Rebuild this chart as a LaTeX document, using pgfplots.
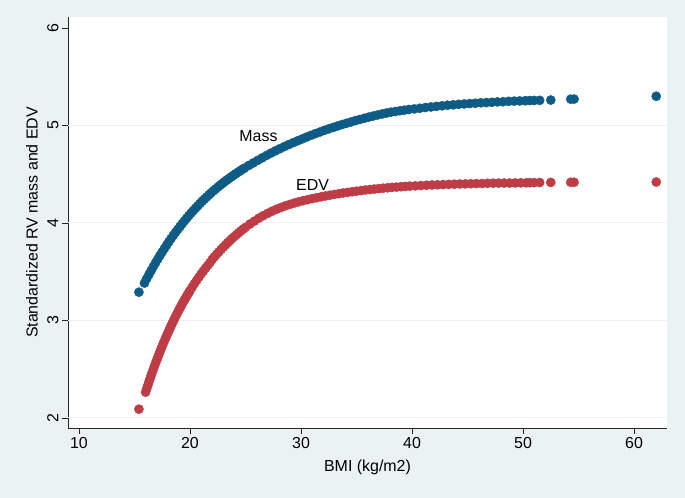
\documentclass[border=0pt]{standalone}
\usepackage{fontspec}
\setmainfont{Liberation Sans}
\usepackage{pgfplots}
\pgfplotsset{compat=1.18}
\definecolor{stbg}{RGB}{234,242,243}
\definecolor{massblue}{RGB}{14,92,133}
\definecolor{edvred}{RGB}{190,60,70}
\begin{document}
\begin{tikzpicture}
\fill[stbg] (0bp,0bp) rectangle (685bp,498bp);
\begin{axis}[
  at={(68bp,70bp)}, anchor=south west,
  scale only axis, width=599bp, height=411bp,
  xmin=9.01, xmax=62.97, ymin=1.897, ymax=6.113,
  axis lines*=left,
  axis line style={black!85, line width=0.8bp},
  axis background/.style={fill=white},
  xtick={10,20,...,60}, ytick={2,...,6},
  tick align=outside, major tick length=6bp,
  tick style={black!85, line width=0.8bp},
  extra y ticks={2,3,4,5}, extra y tick labels={},
  extra y tick style={grid=major, major tick length=0pt},
  major grid style={draw=stbg, line width=1bp},
  /pgf/number format/assume math mode=true,
  ticklabel style={font=\fontsize{16}{19}\selectfont},
  yticklabel style={rotate=90, anchor=south},
  label style={font=\fontsize{16}{19}\selectfont},
  xlabel={BMI (kg/m2)},
  ylabel={Standardized RV mass and EDV},
  xlabel style={at={(axis description cs:0.5,-0.0949)}, anchor=center},
  ylabel style={at={(axis description cs:-0.0601,0.5)}, anchor=center},
]
% Mass
\addplot[only marks, mark=*, mark size=4.6bp, color=massblue] coordinates {
(15.4,3.29)
(15.9,3.384) (16.1,3.429) (16.3,3.471) (16.5,3.512) (16.7,3.553) (16.9,3.592)
(17.1,3.630) (17.3,3.668) (17.5,3.704) (17.7,3.739) (17.9,3.774) (18.1,3.808)
(18.3,3.841) (18.5,3.873) (18.7,3.904) (18.9,3.934) (19.1,3.964) (19.3,3.993)
(19.5,4.021) (19.7,4.049) (19.9,4.076) (20.1,4.102) (20.3,4.127) (20.5,4.152)
(20.7,4.176) (20.9,4.200) (21.1,4.223) (21.3,4.245) (21.5,4.267) (21.7,4.288)
(21.9,4.309) (22.1,4.329) (22.3,4.348) (22.5,4.367) (22.7,4.386) (22.9,4.404)
(23.1,4.422) (23.3,4.439) (23.5,4.455) (23.7,4.472) (23.9,4.488) (24.1,4.503)
(24.3,4.519) (24.5,4.533) (24.7,4.549) (24.9,4.562)
(25.3,4.590) (25.7,4.616) (26.1,4.642) (26.5,4.668) (26.9,4.693) (27.3,4.717)
(27.7,4.740) (28.1,4.762) (28.5,4.784) (28.9,4.804) (29.3,4.824) (29.7,4.843)
(30.1,4.862) (30.5,4.881) (30.9,4.899) (31.3,4.917) (31.7,4.933) (32.1,4.950)
(32.5,4.966) (32.9,4.980) (33.3,4.995) (33.7,5.010) (34.1,5.023) (34.5,5.036)
(34.9,5.050) (35.3,5.062) (35.7,5.074) (36.1,5.086) (36.5,5.097) (36.9,5.108)
(37.3,5.118) (37.7,5.128) (38.1,5.137) (38.5,5.144) (38.9,5.151) (39.3,5.157)
(39.7,5.164)
(40.2,5.170) (40.7,5.177) (41.2,5.184) (41.7,5.190) (42.2,5.196) (42.7,5.202)
(43.2,5.208) (43.7,5.212) (44.2,5.217) (44.7,5.221) (45.2,5.225) (45.7,5.228)
(46.2,5.233) (46.7,5.235) (47.2,5.238) (47.7,5.242) (48.2,5.244) (48.7,5.248)
(49.2,5.250) (49.7,5.252) (50.2,5.254)
(50.6,5.256) (51.0,5.257) (51.5,5.258) (52.5,5.261) (54.3,5.270) (54.6,5.271)
(62.0,5.300)
};
% EDV
\addplot[only marks, mark=*, mark size=4.6bp, color=edvred] coordinates {
(15.4,2.09)
(16.0,2.265) (16.1,2.301) (16.2,2.335) (16.3,2.370) (16.4,2.403) (16.5,2.436)
(16.6,2.468) (16.7,2.500) (16.8,2.532) (16.9,2.563) (17.0,2.593) (17.1,2.623)
(17.2,2.652) (17.3,2.681) (17.4,2.710) (17.5,2.738) (17.6,2.765) (17.7,2.792)
(17.8,2.819) (17.9,2.845) (18.0,2.871) (18.1,2.896) (18.2,2.921) (18.3,2.946)
(18.4,2.970) (18.5,2.994) (18.6,3.017) (18.7,3.040) (18.8,3.063) (18.9,3.085)
(19.0,3.107) (19.1,3.128) (19.2,3.149) (19.3,3.170) (19.4,3.191) (19.5,3.211)
(19.6,3.230) (19.7,3.250) (19.8,3.269) (19.9,3.288) (20.0,3.306)
(20.2,3.342) (20.4,3.378) (20.6,3.411) (20.8,3.444) (21.0,3.476) (21.2,3.507)
(21.4,3.536) (21.6,3.565) (21.8,3.593) (22.0,3.626) (22.2,3.653) (22.4,3.679)
(22.6,3.704) (22.8,3.729) (23.0,3.752) (23.2,3.775) (23.4,3.798) (23.6,3.820)
(23.8,3.841) (24.0,3.861) (24.2,3.881) (24.4,3.901) (24.6,3.920) (24.8,3.938)
(25.0,3.955)
(25.4,3.989) (25.8,4.019) (26.2,4.049) (26.6,4.075) (27.0,4.099) (27.4,4.121)
(27.8,4.141) (28.2,4.159) (28.6,4.176) (29.0,4.191) (29.4,4.205) (29.8,4.217)
(30.2,4.229) (30.6,4.239) (31.0,4.250) (31.4,4.259) (31.8,4.268) (32.2,4.277)
(32.6,4.285) (33.0,4.293) (33.4,4.300) (33.8,4.308) (34.2,4.314) (34.6,4.321)
(35.0,4.326) (35.4,4.332) (35.8,4.338) (36.2,4.343) (36.6,4.348) (37.0,4.353)
(37.4,4.357) (37.8,4.361) (38.2,4.365) (38.6,4.368) (39.0,4.372) (39.4,4.375)
(39.8,4.378)
(40.3,4.381) (40.8,4.384) (41.3,4.387) (41.8,4.390) (42.3,4.392) (42.8,4.394)
(43.3,4.396) (43.8,4.398) (44.3,4.400) (44.8,4.401) (45.3,4.403) (45.8,4.404)
(46.3,4.405) (46.8,4.407) (47.3,4.408) (47.8,4.409) (48.3,4.410) (48.8,4.410)
(49.3,4.411) (49.8,4.412) (50.3,4.412)
(50.6,4.413) (51.0,4.414) (51.5,4.415) (52.5,4.416) (54.3,4.418) (54.6,4.418)
(62.0,4.420)
};
\node[font=\fontsize{16}{19}\selectfont] at (axis cs:26.17,4.89) {Mass};
\node[font=\fontsize{16}{19}\selectfont] at (axis cs:31.04,4.39) {EDV};
\end{axis}
\end{tikzpicture}
\end{document}
